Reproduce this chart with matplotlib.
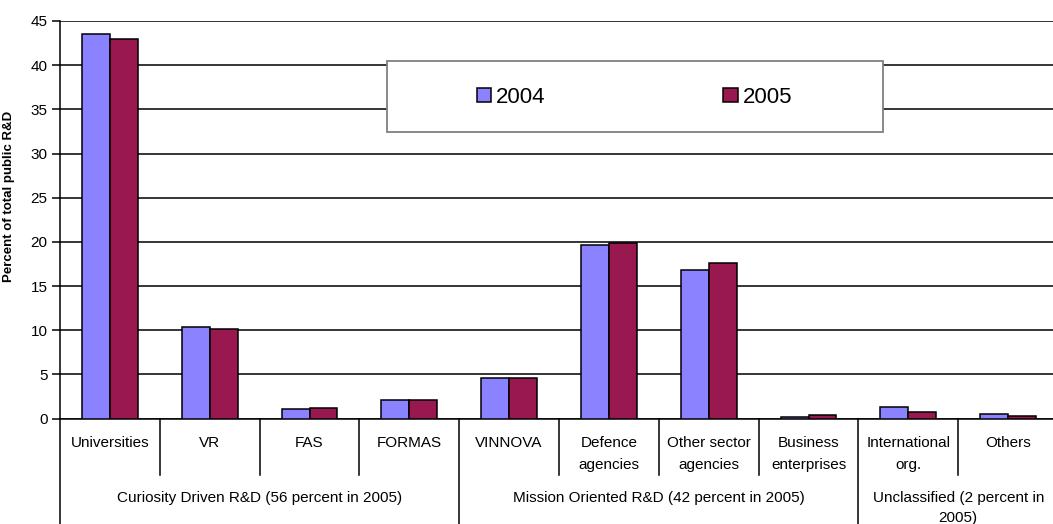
import numpy as np
import matplotlib.pyplot as plt
from matplotlib.patches import Rectangle

plt.rcParams['font.family'] = ['Liberation Sans', 'DejaVu Sans']

categories = ['Universities', 'VR', 'FAS', 'FORMAS', 'VINNOVA',
              'Defence\nagencies', 'Other sector\nagencies',
              'Business\nenterprises', 'International\norg.', 'Others']
share_2004 = [43.5, 10.4, 1.05, 2.15, 4.6, 19.6, 16.8, 0.15, 1.25, 0.5]
share_2005 = [43.0, 10.1, 1.15, 2.15, 4.6, 19.9, 17.6, 0.4, 0.68, 0.27]
groups = ['Curiosity Driven R&D (56 percent in 2005)',
          'Mission Oriented R&D (42 percent in 2005)',
          'Unclassified (2 percent in\n2005)']
group_sizes = [4, 4, 2]

color_2004 = '#8a82ff'
color_2005 = '#99184f'

fig = plt.figure(figsize=(10.53, 5.24), dpi=100)
ax = fig.add_axes([60 / 1053, 105.5 / 524, 998 / 1053, 397.5 / 524])

x = np.arange(len(categories))
w = 0.28
ax.bar(x - w / 2, share_2004, w, color=color_2004, edgecolor='black',
       linewidth=1.1, label='2004', zorder=3)
ax.bar(x + w / 2, share_2005, w, color=color_2005, edgecolor='black',
       linewidth=1.1, label='2005', zorder=3)

ax.set_xlim(-0.5, len(categories) - 0.5)
ax.set_ylim(0, 45)
ax.set_yticks(range(0, 46, 5))
ax.yaxis.grid(True, color='black', linewidth=1.1)
ax.set_axisbelow(True)
ax.tick_params(axis='y', length=6, width=1.1, pad=3, labelsize=11)
ax.set_xticks([])
for side in ['top', 'right']:
    ax.spines[side].set_visible(False)
for side in ['left', 'bottom']:
    ax.spines[side].set_linewidth(1.1)

ax.set_ylabel('Percent of total public R&D', fontsize=9.5, fontweight='bold')
ax.yaxis.set_label_coords(-0.045, 0.558)

# category labels and separators below the axis
trans = ax.get_xaxis_transform()
for i, name in enumerate(categories):
    for j, line in enumerate(name.split('\n')):
        ax.text(i, -0.072 - j * 0.054, line, transform=trans, ha='center',
                va='baseline', fontsize=11, clip_on=False)

group_edges = np.cumsum([0] + group_sizes) - 0.5
for b in np.arange(len(categories) + 1) - 0.5:
    bottom = -0.30 if b in group_edges else -0.141
    ax.plot([b, b], [0, bottom], transform=trans, color='black',
            linewidth=1.1, clip_on=False)

for g, name in enumerate(groups):
    mid = (group_edges[g] + group_edges[g + 1]) / 2
    for j, line in enumerate(name.split('\n')):
        ax.text(mid, -0.211 - j * 0.05, line, transform=trans, ha='center',
                va='baseline', fontsize=11, clip_on=False)

# legend box
ax.add_patch(Rectangle((0.328, 0.72), 0.4965, 0.179, transform=ax.transAxes,
                       facecolor='white', edgecolor='#808080', linewidth=1.3,
                       zorder=4))
ax.legend(loc='center left', bbox_to_anchor=(0.4175, 0.808), ncol=2,
          frameon=False, fontsize=16, handlelength=0.65, handleheight=0.63,
          handletextpad=0.22, columnspacing=8.0, borderpad=0,
          borderaxespad=0).set_zorder(5)

fig.savefig('out.png', dpi=100)
